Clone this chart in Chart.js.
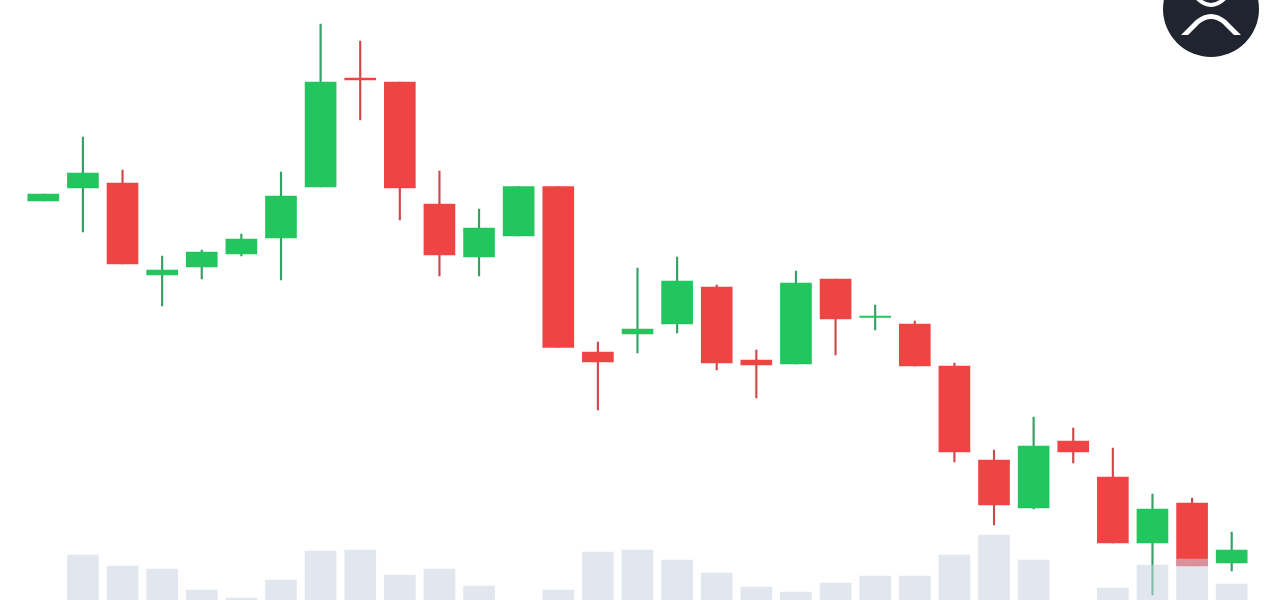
<!DOCTYPE html>
<html>
<head>
<meta charset="utf-8">
<script src="https://cdn.jsdelivr.net/npm/chart.js@4/dist/chart.umd.min.js"></script>
<style>
  html, body { margin: 0; background: #fff; overflow: hidden; }
  #wrap { position: relative; width: 1280px; height: 600px; }
  #chart { filter: blur(0.4px); }
  #logo { position: absolute; left: 1163px; top: 0; }
</style>
</head>
<body>
<div id="wrap">
  <canvas id="chart" width="1280" height="600"></canvas>
  <svg id="logo" width="96" height="58" viewBox="0 0 96 58">
    <circle cx="48" cy="9" r="48" fill="#20242e"/>
    <path d="M18 35 L33 20 Q48 8 63 20 L78 35 L71 35 L60 24 Q48 14 36 24 L25 35 Z" fill="#fff"/>
    <path d="M34 -2 Q48 12 62 -2" fill="none" stroke="#fff" stroke-width="4"/>
  </svg>
</div>
<script>
// axis is 0-600 from the bottom
const labels = ['1','2','3','4','5','6','7','8','9','10','11','12','13','14','15','16','17','18','19','20','21','22','23','24','25','26','27','28','29','30','31'];
const open  = [399,412,417,325,333,346,362,413,522,518,396,343,364,413.5,248,266,276,313,240,236,321,282.5,276,234,140,92,159,123,57,97,37];
const close = [406,427,336,330,348,361,404,518,520,412,345,372,413.5,252.5,238,271,319,237,235,317,281,284,234,148,95,154,148,57,91,34,50];
const high  = [406,463,430,344,350,366,428,576,559,518,429,391,413.5,413.5,258,332,343,315,250,329,321,295,279,237,150,183,172,152,106,102,68];
const low   = [399,368,336,294,321,344,320,413,480,380,324,324,364,252.5,190,247,267,230,202,236,245,270,234,138,75,91,137,57,5,34,29];
const volume = [null,45,34,31,10,2,20,49,50,25,31,14,null,10,48,50,40,27,13,8,17,24,24,45,65,40,null,12,35,41,16];

const GREEN = '#22c55e', RED = '#ef4444';
const GREEN_WICK = '#34a065', RED_WICK = '#d0484c';

const isUp = close.map((c, i) => c >= open[i]);

new Chart(document.getElementById('chart'), {
  type: 'bar',
  data: {
    labels: labels,
    datasets: [
      {
        // on top of the candles, that is why the red one goes pink near the bottom
        data: volume,
        yAxisID: 'yVol',
        order: 0,
        grouped: false,
        barThickness: 31,
        backgroundColor: 'rgba(200, 210, 225, 0.55)'
      },
      {
        data: open.map((o, i) => [o, close[i]]),
        order: 1,
        grouped: false,
        barThickness: 31,
        backgroundColor: isUp.map(u => u ? GREEN : RED)
      },
      {
        data: low.map((l, i) => [l, high[i]]),
        order: 2,
        grouped: false,
        barThickness: 1.5,
        backgroundColor: isUp.map(u => u ? GREEN_WICK : RED_WICK)
      }
    ]
  },
  options: {
    responsive: false,
    animation: false,
    layout: { padding: { left: 23.5, right: 28.5, top: 0, bottom: 0 } },
    plugins: { legend: { display: false }, tooltip: { enabled: false } },
    scales: {
      x: { display: false },
      y: { display: false, min: 0, max: 600 },
      yVol: { display: false, min: 0, max: 600 }
    }
  }
});
</script>
</body>
</html>
